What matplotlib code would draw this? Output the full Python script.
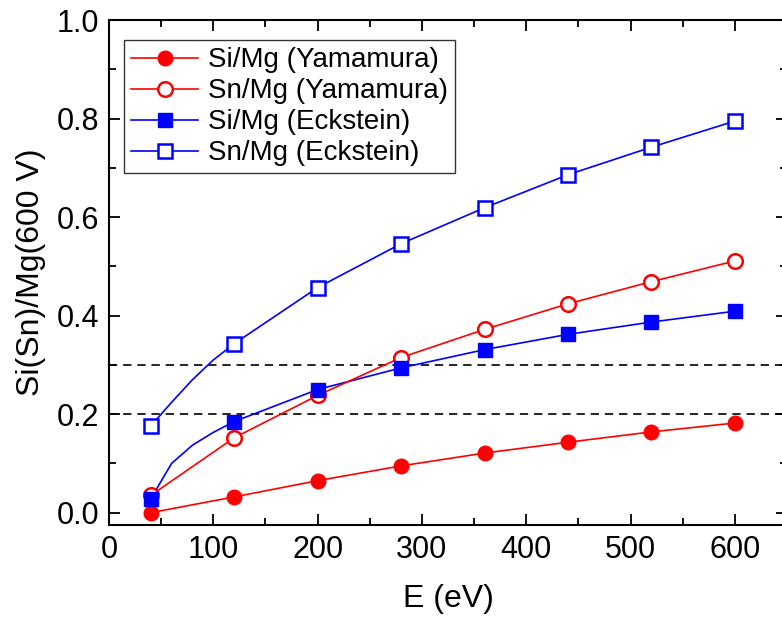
import numpy as np
import matplotlib.pyplot as plt
from matplotlib.ticker import MultipleLocator

plt.rcParams['font.family'] = ['Liberation Sans', 'DejaVu Sans']

# marker positions (eV)
energy = [40, 120, 200, 280, 360, 440, 520, 600]

si_yam = [0.0, 0.032, 0.065, 0.095, 0.121, 0.143, 0.164, 0.182]
sn_yam = [0.035, 0.152, 0.238, 0.315, 0.372, 0.424, 0.469, 0.511]
si_eck = [0.028, 0.185, 0.250, 0.294, 0.331, 0.362, 0.387, 0.409]
sn_eck = [0.176, 0.343, 0.457, 0.546, 0.619, 0.686, 0.742, 0.795]

# the Eckstein curves carry extra points at low energy
energy_eck_line = [40, 60, 80, 100, 120, 200, 280, 360, 440, 520, 600]
si_eck_line = [0.028, 0.100, 0.137, 0.163, 0.185, 0.250, 0.294, 0.331, 0.362, 0.387, 0.409]
sn_eck_line = [0.176, 0.224, 0.270, 0.310, 0.343, 0.457, 0.546, 0.619, 0.686, 0.742, 0.795]

ref_levels = [0.2, 0.3]

fig = plt.figure(figsize=(7.82, 6.18), dpi=100)
# axes run past the right edge, as in the cropped original
ax = fig.add_axes([0.1394, 0.1505, 0.867, 0.817])

for lvl in ref_levels:
    ax.axhline(lvl, color='black', ls=(0, (5, 3.5)), lw=1.2, zorder=1)

red, blue = '#ff0000', '#0000ff'
ax.plot(energy, si_yam, '-', color=red, lw=1.2, marker='o', ms=10.5,
        mfc=red, mec=red, label='Si/Mg (Yamamura)', zorder=3)
ax.plot(energy, sn_yam, '-', color=red, lw=1.2, marker='o', ms=10.5,
        mfc='white', mec=red, mew=1.8, label='Sn/Mg (Yamamura)', zorder=3)

ax.plot(energy_eck_line, si_eck_line, '-', color=blue, lw=1.2, zorder=2)
ax.plot(energy, si_eck, 'none', marker='s', ms=9.5, mfc=blue, mec=blue, zorder=4)
ax.plot(energy_eck_line, sn_eck_line, '-', color=blue, lw=1.2, zorder=2)
ax.plot(energy, sn_eck, 'none', marker='s', ms=9.5, mfc='white', mec=blue,
        mew=1.8, zorder=4)

# legend proxies for the Eckstein series
ax.plot([], [], '-', color=blue, lw=1.2, marker='s', ms=9.5, mfc=blue, mec=blue,
        label='Si/Mg (Eckstein)')
ax.plot([], [], '-', color=blue, lw=1.2, marker='s', ms=9.5, mfc='white', mec=blue,
        mew=1.8, label='Sn/Mg (Eckstein)')

ax.set_xlim(0, 650)
ax.set_ylim(-0.025, 1.0)
ax.xaxis.set_major_locator(MultipleLocator(100))
ax.xaxis.set_minor_locator(MultipleLocator(50))
ax.yaxis.set_major_locator(MultipleLocator(0.2))
ax.yaxis.set_minor_locator(MultipleLocator(0.1))
ax.yaxis.set_major_formatter(plt.FormatStrFormatter('%.1f'))

ax.tick_params(which='both', direction='in', top=True, right=True,
               labelsize=22, width=1.3)
ax.tick_params(which='major', length=8, pad=7)
ax.tick_params(which='minor', length=5)
for sp in ax.spines.values():
    sp.set_linewidth(1.5)

ax.set_xlabel('E (eV)', fontsize=23, labelpad=14)
ax.set_ylabel('Si(Sn)/Mg(600 V)', fontsize=23, labelpad=8)

leg = ax.legend(loc='upper left', fontsize=20, frameon=True, fancybox=False,
                edgecolor='black', handlelength=2.4, borderpad=0.25,
                labelspacing=0.18, handletextpad=0.35,
                bbox_to_anchor=(0.0, 0.99), borderaxespad=0.55)
leg.get_frame().set_linewidth(1.0)

fig.savefig('out.png', dpi=100)
